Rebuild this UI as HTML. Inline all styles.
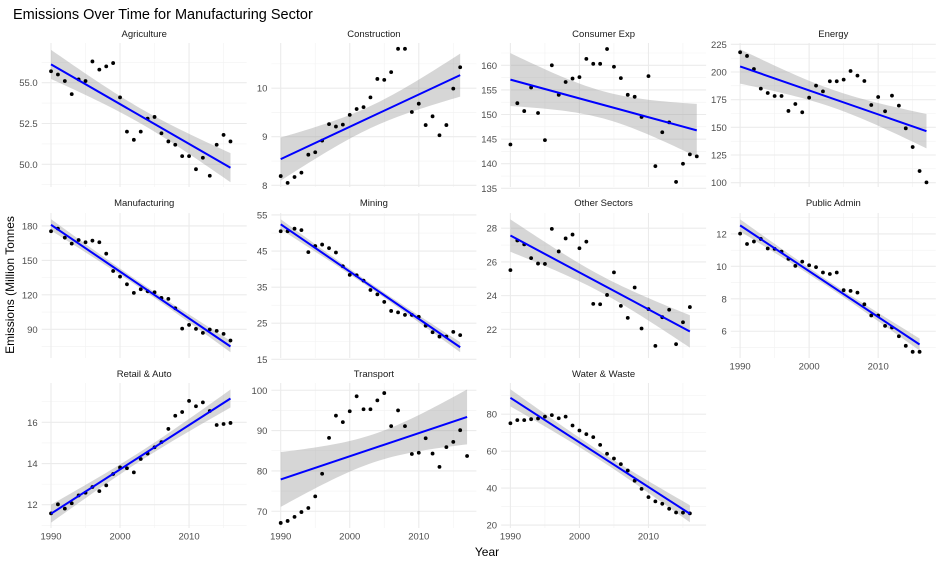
<!DOCTYPE html>
<html><head><meta charset="utf-8">
<style>
html,body{margin:0;padding:0;background:#fff;}
svg{display:block;font-family:"Liberation Sans",sans-serif;}
</style></head>
<body>
<svg id="chart" width="940" height="564" viewBox="0 0 940 564">
<text x="13" y="19" font-size="14.5" fill="#000">Emissions Over Time for Manufacturing Sector</text>
<text x="487" y="556" font-size="12" text-anchor="middle" fill="#000">Year</text>
<text transform="translate(14,285) rotate(-90)" font-size="12" text-anchor="middle" fill="#000">Emissions (Million Tonnes</text>
<g id="panels"></g>
</svg>
<script>
const sectors = ["Agriculture","Construction","Consumer Exp","Energy","Manufacturing","Mining","Other Sectors","Public Admin","Retail & Auto","Transport","Water & Waste"];
const startYear = 1990;
const agriculture = [55.7,55.5,55.1,54.3,55.2,55.1,56.3,55.8,56.0,56.2,54.1,52.0,51.5,52.0,52.8,52.9,51.9,51.4,51.2,50.5,50.5,49.7,50.4,49.3,51.2,51.8,51.4];
const construction = [8.19,8.05,8.17,8.26,8.63,8.68,8.92,9.26,9.21,9.25,9.45,9.57,9.61,9.81,10.19,10.17,10.33,10.81,10.81,9.51,9.68,9.24,9.42,9.03,9.24,9.99,10.43];
const consumerExp = [143.9,152.3,150.7,155.5,150.3,144.8,160.0,154.0,156.6,157.3,157.6,161.3,160.3,160.3,163.3,159.7,157.4,154.0,153.6,149.5,157.8,139.5,146.4,148.4,136.3,140.0,141.9,141.5];
const energy = [217.8,214.5,202.7,185.0,181.0,178.3,178.3,164.8,171.1,163.6,176.8,187.7,182.5,191.6,191.6,193.1,200.9,196.7,191.9,170.2,177.4,164.5,178.6,169.6,149.1,132.2,110.5,100.3];
const manufacturing = [175.4,177.7,169.8,164.6,167.8,165.8,167.2,165.8,155.9,140.8,135.9,129.2,121.7,124.9,123.1,122.3,117.3,116.5,108.3,90.6,93.8,90.4,86.9,89.8,88.6,86.0,80.2];
const mining = [50.5,50.5,51.2,50.8,44.7,46.4,46.8,45.8,44.6,40.8,38.4,38.3,36.8,34.2,33.0,30.9,28.4,28.0,27.3,27.3,26.8,24.3,22.5,21.3,21.3,22.6,21.7];
const otherSectors = [25.51,27.27,27.04,26.22,25.9,25.88,27.96,26.62,27.39,27.62,26.81,27.2,23.51,23.49,24.04,25.38,23.39,22.68,24.48,22.05,23.2,21.02,22.72,23.16,21.12,22.42,23.32];
const publicAdmin = [12.02,11.38,11.53,11.69,11.1,11.08,10.91,10.46,10.03,10.29,10.07,9.95,9.62,9.53,9.62,8.53,8.49,8.38,7.66,6.97,6.97,6.33,6.23,5.69,5.1,4.73,4.73];
const retailAuto = [11.58,12.02,11.81,12.07,12.45,12.58,12.86,12.66,12.94,13.49,13.81,13.77,13.57,14.22,14.48,14.79,15.04,15.68,16.32,16.5,17.04,16.78,16.97,16.55,15.87,15.92,15.97];
const transport = [67.1,67.6,68.6,69.8,70.8,73.7,79.3,88.2,93.7,92.1,94.8,98.5,95.3,95.3,97.5,99.3,91.1,95.0,91.1,84.2,84.5,88.1,84.3,81.0,85.9,87.2,90.1,83.7];
const waterWaste = [75.1,76.8,76.8,77.3,77.7,78.7,79.5,77.8,78.7,73.9,71.2,69.2,67.6,63.4,58.6,56.0,53.0,49.5,44.0,39.6,35.1,32.8,31.5,28.8,26.8,26.7,26.3];
const seriesList = [agriculture,construction,consumerExp,energy,manufacturing,mining,otherSectors,publicAdmin,retailAuto,transport,waterWaste];
const yTicks = [[50,52.5,55],[8,9,10],[135,140,145,150,155,160],[100,125,150,175,200,225],[90,120,150,180],[15,25,35,45,55],[22,24,26,28],[6,8,10,12],[12,14,16],[70,80,90,100],[20,40,60,80]];
const yTickLabels = [["50.0","52.5","55.0"],["8","9","10"],["135","140","145","150","155","160"],["100","125","150","175","200","225"],["90","120","150","180"],["15","25","35","45","55"],["22","24","26","28"],["6","8","10","12"],["12","14","16"],["70","80","90","100"],["20","40","60","80"]];
const yLimits = [[48.61,57.43],[7.965,10.93],[135.27,164.53],[96.1,226.2],[65,191.3],[15.36,55.55],[20.3,28.9],[4.35,13.29],[10.87,17.91],[65.85,101.8],[18.4,96.9]];
const xTicks = [1990,2000,2010];
const xMinor = [1995,2005,2015];
const xLimits = [1988.65,2018.35];

const NS="http://www.w3.org/2000/svg";
const root=document.getElementById('panels');
function mk(tag,attrs,parent){const e=document.createElementNS(NS,tag);for(const k in attrs)e.setAttribute(k,attrs[k]);(parent||root).appendChild(e);return e;}
const colX0=41.7, colW=205, colStep=229.7;
const rowTops=[43,213,383], rowBots=[187,358,528];
const stripY=[37,206,377];

sectors.forEach((name,i)=>{
  const col=i%4,row=Math.floor(i/4);
  const x0=colX0+col*colStep,x1=x0+colW,y0=rowTops[row],y1=rowBots[row];
  const lim=yLimits[i];
  const sx=v=>x0+(v-xLimits[0])/(xLimits[1]-xLimits[0])*(x1-x0);
  const sy=v=>y1-(v-lim[0])/(lim[1]-lim[0])*(y1-y0);
  const g=mk('g',{});
  
  
  // minor y grid
  const t=yTicks[i],step=t[1]-t[0];
  for(let v=t[0]-step/2;v<=lim[1];v+=step){ if(v<lim[0])continue; const yy=sy(v);
    const l=mk('line',{x1:x0,x2:x1,y1:yy,y2:yy,stroke:'#f2f2f2','stroke-width':0.6},g);
    
    }
  xMinor.forEach(v=>{const xx=sx(v);const l=mk('line',{x1:xx,x2:xx,y1:y0,y2:y1,stroke:'#f2f2f2','stroke-width':0.6},g);
    
    });
  t.forEach((v,k)=>{const yy=sy(v);
    const l=mk('line',{x1:x0,x2:x1,y1:yy,y2:yy,stroke:'#ebebeb','stroke-width':1.1},g);
    
    
    const tx=mk('text',{x:x0-4,y:yy+3.5,'font-size':9.5,fill:'#4d4d4d','text-anchor':'end'},g);
    tx.textContent=yTickLabels[i][k];
    
    });
  xTicks.forEach(v=>{const xx=sx(v);
    const l=mk('line',{x1:xx,x2:xx,y1:y0,y2:y1,stroke:'#ebebeb','stroke-width':1.1},g);
    
    
    if(row===2||(row===1&&col===3)){
      const tx=mk('text',{x:xx,y:y1+11.5,'font-size':9.5,fill:'#4d4d4d','text-anchor':'middle'},g);
      tx.textContent=String(v);
      
      }});
  const st=mk('text',{x:(x0+x1)/2,y:stripY[row],'font-size':9.5,fill:'#1a1a1a','text-anchor':'middle'},g);
  st.textContent=name;
  
  
  // regression
  const ys=seriesList[i],n=ys.length,xs=ys.map((_,k)=>startYear+k);
  const mx=xs.reduce((a,b)=>a+b)/n,my=ys.reduce((a,b)=>a+b)/n;
  let sxx=0,sxy=0;xs.forEach((x,k)=>{sxx+=(x-mx)**2;sxy+=(x-mx)*(ys[k]-my);});
  const b=sxy/sxx,a=my-b*mx;
  let sse=0;xs.forEach((x,k)=>{sse+=(ys[k]-a-b*x)**2;});
  const s=Math.sqrt(sse/(n-2)),tq=2.06;
  const up=[],lo=[];
  for(let j=0;j<=40;j++){const x=xs[0]+(xs[n-1]-xs[0])*j/40;const f=a+b*x;const se=s*Math.sqrt(1/n+(x-mx)**2/sxx);
    up.push(sx(x).toFixed(2)+','+sy(f+tq*se).toFixed(2));lo.unshift(sx(x).toFixed(2)+','+sy(f-tq*se).toFixed(2));}
  const rb=mk('polygon',{points:up.concat(lo).join(' '),fill:'#999999','fill-opacity':0.4},g);
  
  
  ys.forEach((v,k)=>{const c=mk('circle',{cx:sx(xs[k]),cy:sy(v),r:1.9,fill:'#000'},g);
    
    });
  const ln=mk('line',{x1:sx(xs[0]),y1:sy(a+b*xs[0]),x2:sx(xs[n-1]),y2:sy(a+b*xs[n-1]),stroke:'#0000ff','stroke-width':2},g);
  
  
});
</script>
</body></html>
